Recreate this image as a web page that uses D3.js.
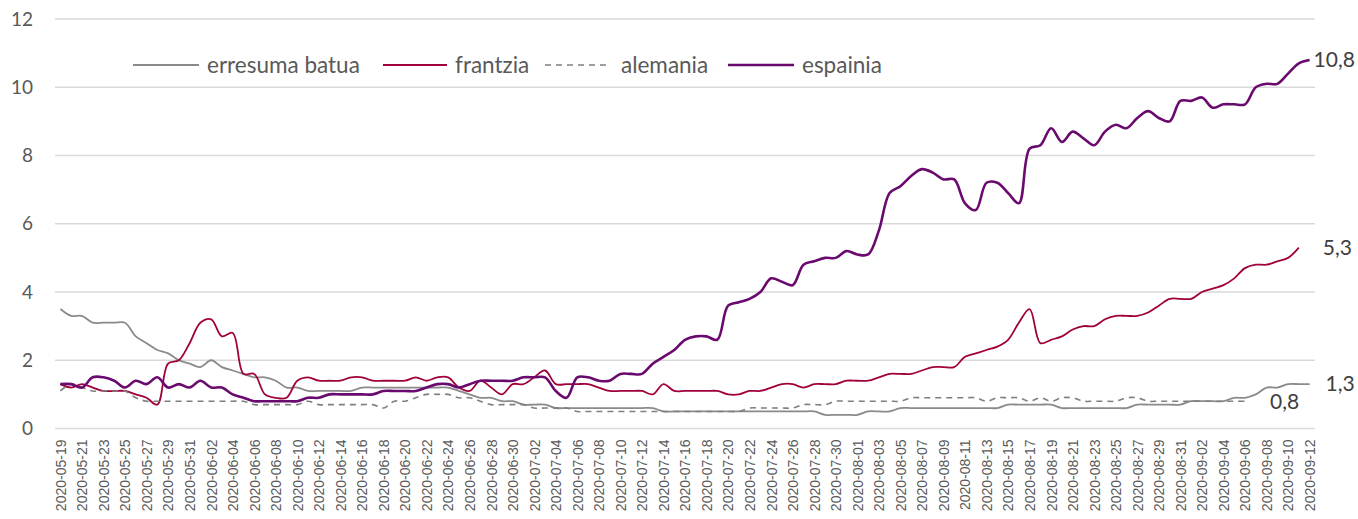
<!DOCTYPE html>
<html>
<head>
<meta charset="utf-8">
<script src="https://cdn.jsdelivr.net/npm/d3@7"></script>
<style>
  body { margin: 0; background: #fff; }
  svg { display: block; }
</style>
</head>
<body>
<div id="chart"></div>
<script>
// categories: one point per day, 2020-05-19 .. 2020-09-12
var startDay = "2020-05-19";
var endDay = "2020-09-12";

// series values
var erresumaBatua = [3.5,3.3,3.3,3.1,3.1,3.1,3.1,2.7,2.5,2.3,2.2,2.0,1.9,1.8,2.0,1.8,1.7,1.6,1.5,1.5,
  1.4,1.2,1.2,1.1,1.1,1.1,1.1,1.1,1.2,1.2,1.2,1.2,1.2,1.2,1.2,1.2,1.2,1.1,1.0,0.9,
  0.9,0.8,0.8,0.7,0.7,0.7,0.6,0.6,0.6,0.6,0.6,0.6,0.6,0.6,0.6,0.6,0.5,0.5,0.5,0.5,
  0.5,0.5,0.5,0.5,0.5,0.5,0.5,0.5,0.5,0.5,0.5,0.4,0.4,0.4,0.4,0.5,0.5,0.5,0.6,0.6,
  0.6,0.6,0.6,0.6,0.6,0.6,0.6,0.6,0.7,0.7,0.7,0.7,0.7,0.6,0.6,0.6,0.6,0.6,0.6,0.6,
  0.7,0.7,0.7,0.7,0.7,0.8,0.8,0.8,0.8,0.9,0.9,1.0,1.2,1.2,1.3,1.3,1.3];

var frantzia = [1.3,1.2,1.3,1.2,1.1,1.1,1.1,1.0,0.9,0.7,1.9,2.0,2.5,3.1,3.2,2.7,2.8,1.6,1.6,1.0,
  0.9,0.9,1.4,1.5,1.4,1.4,1.4,1.5,1.5,1.4,1.4,1.4,1.4,1.5,1.4,1.5,1.5,1.2,1.1,1.4,
  1.2,1.0,1.3,1.3,1.5,1.7,1.3,1.3,1.3,1.3,1.2,1.1,1.1,1.1,1.1,1.0,1.3,1.1,1.1,1.1,
  1.1,1.1,1.0,1.0,1.1,1.1,1.2,1.3,1.3,1.2,1.3,1.3,1.3,1.4,1.4,1.4,1.5,1.6,1.6,1.6,
  1.7,1.8,1.8,1.8,2.1,2.2,2.3,2.4,2.6,3.1,3.5,2.5,2.6,2.7,2.9,3.0,3.0,3.2,3.3,3.3,
  3.3,3.4,3.6,3.8,3.8,3.8,4.0,4.1,4.2,4.4,4.7,4.8,4.8,4.9,5.0,5.3,null];

var alemania = [1.1,1.3,1.2,1.1,1.1,1.1,1.1,0.9,0.8,0.8,0.8,0.8,0.8,0.8,0.8,0.8,0.8,0.8,0.7,0.7,
  0.7,0.7,0.7,0.8,0.7,0.7,0.7,0.7,0.7,0.7,0.6,0.8,0.8,0.9,1.0,1.0,1.0,0.9,0.9,0.8,
  0.7,0.7,0.7,0.7,0.6,0.6,0.6,0.6,0.5,0.5,0.5,0.5,0.5,0.5,0.5,0.5,0.5,0.5,0.5,0.5,
  0.5,0.5,0.5,0.5,0.6,0.6,0.6,0.6,0.6,0.7,0.7,0.7,0.8,0.8,0.8,0.8,0.8,0.8,0.8,0.9,
  0.9,0.9,0.9,0.9,0.9,0.9,0.8,0.9,0.9,0.9,0.8,0.9,0.8,0.9,0.9,0.8,0.8,0.8,0.8,0.9,
  0.9,0.8,0.8,0.8,0.8,0.8,0.8,0.8,0.8,0.8,0.8,null,null,null,null,null,null];

var espainia = [1.3,1.3,1.2,1.5,1.5,1.4,1.2,1.4,1.3,1.5,1.2,1.3,1.2,1.4,1.2,1.2,1.0,0.9,0.8,0.8,
  0.8,0.8,0.8,0.9,0.9,1.0,1.0,1.0,1.0,1.0,1.1,1.1,1.1,1.1,1.2,1.3,1.3,1.2,1.3,1.4,
  1.4,1.4,1.4,1.5,1.5,1.5,1.1,0.9,1.5,1.5,1.4,1.4,1.6,1.6,1.6,1.9,2.1,2.3,2.6,2.7,
  2.7,2.6,3.6,3.7,3.8,4.0,4.4,4.3,4.2,4.8,4.9,5.0,5.0,5.2,5.1,5.1,5.8,6.9,7.1,7.4,
  7.6,7.5,7.3,7.3,6.6,6.4,7.2,7.2,6.9,6.6,8.2,8.3,8.8,8.4,8.7,8.5,8.3,8.7,8.9,8.8,
  9.1,9.3,9.1,9.0,9.6,9.6,9.7,9.4,9.5,9.5,9.5,10.0,10.1,10.1,10.4,10.7,10.8];

var seriesNames = ["erresuma batua", "frantzia", "alemania", "espainia"];
var yTicks = [0, 2, 4, 6, 8, 10, 12];

// styles kept apart from the data
var styles = {
  "erresuma batua": { color: "#8a8a8a", width: 1.8, dash: null, lx: 16 },
  "frantzia": { color: "#a0003c", width: 1.8, dash: null, lx: 24 },
  "alemania": { color: "#7f7f7f", width: 1.6, dash: "6,5", lx: 25 },
  "espainia": { color: "#6a0a6e", width: 2.6, dash: null, lx: 4 }
};

var svgWidth = 1358;
var svgHeight = 519;
var plotLeft = 55, plotRight = 1315, plotTop = 19, plotBottom = 428.5;

var parse = d3.utcParse("%Y-%m-%d");
var fmt = d3.utcFormat("%Y-%m-%d");
var days = d3.utcDay.range(parse(startDay), d3.utcDay.offset(parse(endDay), 1)).map(fmt);

var values = [erresumaBatua, frantzia, alemania, espainia];

var svg = d3.select("#chart")
  .append("svg")
  .attr("width", svgWidth)
  .attr("height", svgHeight);

var x = d3.scalePoint().domain(days).range([plotLeft, plotRight]).padding(0.5);
var y = d3.scaleLinear().domain([0, 12]).range([plotBottom, plotTop]);

// gridlines
svg.append("g")
  .selectAll("line")
  .data(yTicks)
  .enter()
  .append("line")
  .attr("x1", plotLeft)
  .attr("x2", plotRight)
  .attr("y1", d => y(d))
  .attr("y2", d => y(d))
  .attr("stroke", "#d9d9d9")
  .attr("stroke-width", 1.5);

// y axis
var leftAxis = d3.axisLeft(y).tickValues(yTicks).tickSize(0).tickPadding(0);
svg.append("g")
  .attr("transform", "translate(33,0)")
  .call(leftAxis)
  .call(g => g.select(".domain").remove())
  .selectAll("text")
  .attr("fill", "#595959")
  .style("font-family", "Lato, 'Open Sans', sans-serif")
  .style("font-size", "19px");

// x axis
var bottomAxis = d3.axisBottom(x)
  .tickValues(days.filter((d, i) => i % 2 === 0))
  .tickSize(0);
var xg = svg.append("g")
  .attr("transform", `translate(0, ${plotBottom})`)
  .call(bottomAxis);
xg.select(".domain").remove();
xg.selectAll("text")
  .attr("fill", "#595959")
  .style("font-family", "'Liberation Sans', Arial, sans-serif")
  .style("font-size", "14px")
  .attr("text-anchor", "end")
  .attr("transform", "rotate(-90)")
  .attr("x", -11)
  .attr("y", 0)
  .attr("dy", "0.35em");

// lines
var line = d3.line()
  .defined(d => d != null)
  .x((d, i) => x(days[i]))
  .y(d => y(d))
  .curve(d3.curveCatmullRom.alpha(0.5));

seriesNames.forEach(function(name, k) {
  var st = styles[name];
  svg.append("path")
    .datum(values[k])
    .attr("fill", "none")
    .attr("stroke", st.color)
    .attr("stroke-width", st.width)
    .attr("stroke-dasharray", st.dash)
    .attr("stroke-linejoin", "round")
    .attr("d", line);

  // label at last value
  var last = -1;
  values[k].forEach((v, i) => { if (v != null) last = i; });
  svg.append("text")
    .attr("x", x(days[last]) + st.lx)
    .attr("y", y(values[k][last]))
    .attr("dy", "0.35em")
    .attr("fill", "#404040")
    .style("font-family", "Lato, 'Open Sans', sans-serif")
    .style("font-size", "21px")
    .text(d3.format(".1f")(values[k][last]).replace(".", ","));
});

// legend
var legendX = [133, 383, 545, 728];
var legendLen = [66, 64, 63, 66];
var legend = svg.append("g").attr("transform", "translate(0,65)");
seriesNames.forEach(function(name, k) {
  var st = styles[name];
  legend.append("line")
    .attr("x1", legendX[k])
    .attr("x2", legendX[k] + legendLen[k])
    .attr("stroke", st.color)
    .attr("stroke-width", st.width)
    .attr("stroke-dasharray", st.dash);
  legend.append("text")
    .attr("x", legendX[k] + legendLen[k] + (st.dash ? 13 : 8))
    .attr("dy", "0.35em")
    .attr("fill", "#595959")
    .style("font-family", "Lato, 'Open Sans', sans-serif")
    .style("font-size", "22.5px")
    .text(name);
});
</script>
</body>
</html>
